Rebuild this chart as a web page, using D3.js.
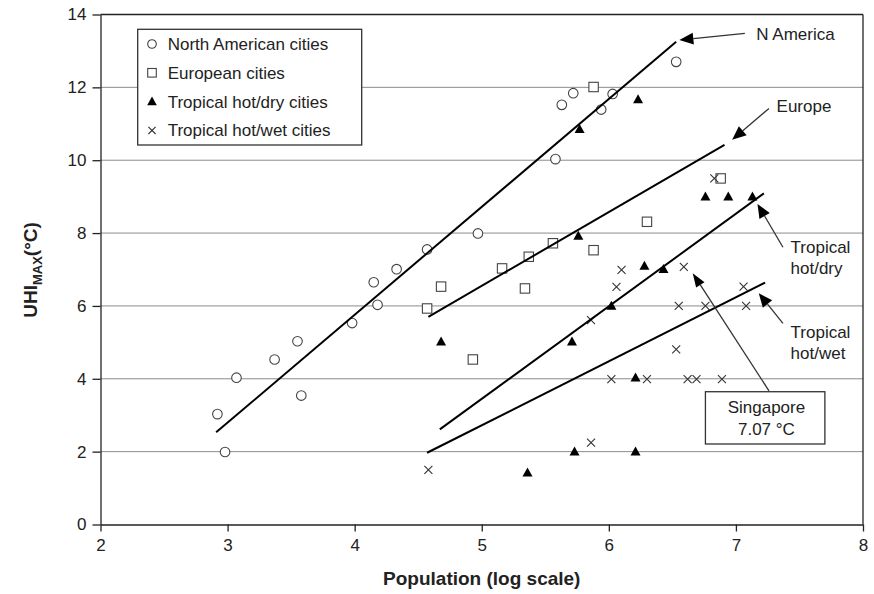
<!DOCTYPE html>
<html>
<head>
<meta charset="utf-8">
<script src="https://cdn.jsdelivr.net/npm/d3@7"></script>
<style>
  html, body { margin: 0; padding: 0; background: #fff; }
  svg { display: block; font-family: Arial, "Liberation Sans", Helvetica, sans-serif; }
</style>
</head>
<body>
<svg id="chart" width="874" height="594"></svg>
<script>
// ---------------- DATA ----------------
const xTicks = [2, 3, 4, 5, 6, 7, 8];
const yTicks = [0, 2, 4, 6, 8, 10, 12, 14];

const seriesNames = ["North American cities", "European cities", "Tropical hot/dry cities", "Tropical hot/wet cities"];

const northAmerica = [
  [2.92, 3.03], [2.98, 1.99], [3.07, 4.03], [3.37, 4.53], [3.55, 5.03], [3.58, 3.54],
  [3.98, 5.53], [4.15, 6.65], [4.18, 6.03], [4.33, 7.01], [4.57, 7.55], [4.97, 7.99],
  [5.58, 10.03], [5.63, 11.52], [5.72, 11.84], [5.94, 11.39], [6.03, 11.82], [6.53, 12.70]
];
const europe = [
  [4.57, 5.93], [4.68, 6.53], [4.93, 4.53], [5.16, 7.03], [5.34, 6.48], [5.37, 7.35],
  [5.56, 7.72], [5.88, 7.53], [5.88, 12.01], [6.30, 8.31], [6.88, 9.50]
];
const tropicalDry = [
  [4.68, 5.02], [5.36, 1.42], [5.71, 5.02], [5.73, 2.00], [5.76, 7.92], [5.77, 10.85],
  [6.02, 6.00], [6.21, 4.03], [6.21, 2.00], [6.23, 11.67], [6.28, 7.10], [6.43, 7.01],
  [6.76, 9.00], [6.94, 9.00], [7.13, 9.00]
];
const tropicalWet = [
  [4.58, 1.50], [5.86, 5.61], [5.86, 2.25], [6.02, 3.99], [6.06, 6.52], [6.10, 6.99],
  [6.30, 3.99], [6.53, 4.81], [6.55, 6.00], [6.59, 7.07], [6.62, 3.99], [6.69, 3.99],
  [6.76, 6.00], [6.83, 9.50], [6.89, 3.99], [7.06, 6.53], [7.08, 6.00]
];

// regression lines: [[x1,y1],[x2,y2]]
const fitNorthAmerica = [[2.91, 2.53], [6.53, 13.25]];
const fitEurope = [[4.58, 5.70], [6.91, 10.42]];
const fitDry = [[4.67, 2.61], [7.22, 9.09]];
const fitWet = [[4.57, 1.97], [7.23, 6.64]];

// annotation texts
const labelNA = ["N America"];
const labelEU = ["Europe"];
const labelDry = ["Tropical", "hot/dry"];
const labelWet = ["Tropical", "hot/wet"];
const labelSingapore = ["Singapore", "7.07 \u00B0C"];

// ---------------- LAYOUT ----------------
const svg = d3.select("#chart");
const x = d3.scaleLinear().domain([2, 8]).range([100.5, 863]);
const y = d3.scaleLinear().domain([0, 14]).range([524.5, 14.5]);
const FONT = 17;
const ink = "#222";

// gridlines
svg.append("g").selectAll("line").data(yTicks.filter(v => v > 0 && v < 14)).join("line")
  .attr("x1", x(2)).attr("x2", x(8))
  .attr("y1", d => y(d)).attr("y2", d => y(d))
  .attr("stroke", "#8c8c8c").attr("stroke-width", 1);

// frame (top & right)
svg.append("line").attr("x1", x(2)).attr("x2", x(8)).attr("y1", y(14)).attr("y2", y(14))
  .attr("stroke", ink).attr("stroke-width", 1.3);
svg.append("line").attr("x1", x(8)).attr("x2", x(8)).attr("y1", y(14)).attr("y2", y(0))
  .attr("stroke", ink).attr("stroke-width", 1.3);

// axes
const xAxis = svg.append("g").attr("transform", `translate(0,${y(0)})`)
  .call(d3.axisBottom(x).tickValues(xTicks).tickFormat(d3.format("d")).tickSize(7).tickSizeOuter(0).tickPadding(7));
const yAxis = svg.append("g").attr("transform", `translate(${x(2)},0)`)
  .call(d3.axisLeft(y).tickValues(yTicks).tickFormat(d3.format("d")).tickSize(8).tickSizeOuter(0).tickPadding(6));
[xAxis, yAxis].forEach(a => {
  a.select(".domain").attr("stroke", ink).attr("stroke-width", 1.3);
  a.selectAll(".tick line").attr("stroke", ink).attr("stroke-width", 1.3);
  a.selectAll(".tick text").attr("font-size", FONT).attr("fill", ink)
    .attr("font-family", "Arial, 'Liberation Sans', Helvetica, sans-serif");
});

// axis titles
svg.append("text").attr("x", (x(2) + x(8)) / 2).attr("y", 585)
  .attr("text-anchor", "middle").attr("font-size", 19).attr("font-weight", "bold").attr("fill", ink)
  .text("Population (log scale)");
const yt = svg.append("text").attr("transform", `translate(37,${270}) rotate(-90)`)
  .attr("text-anchor", "middle").attr("font-size", 19).attr("font-weight", "bold").attr("fill", ink);
yt.append("tspan").text("UHI");
yt.append("tspan").attr("font-size", 13).attr("dy", 5).text("MAX");
yt.append("tspan").attr("dy", -5).text("(\u00B0C)");

// ---------------- MARKS ----------------
const markers = {
  circle: g => g.append("circle").attr("r", 4.8).attr("fill", "#fff").attr("stroke", "#444").attr("stroke-width", 1.1),
  square: g => g.append("rect").attr("x", -4.7).attr("y", -4.7).attr("width", 9.4).attr("height", 9.4)
                .attr("fill", "#fff").attr("stroke", "#444").attr("stroke-width", 1.1),
  triangle: g => g.append("path").attr("d", "M0,-5.2L5,3.8L-5,3.8Z").attr("fill", "#000"),
  cross: g => g.append("path").attr("d", "M-4,-4L4,4M-4,4L4,-4").attr("stroke", "#333").attr("stroke-width", 1.1).attr("fill", "none")
};

function drawSeries(data, kind) {
  svg.append("g").selectAll("g").data(data).join("g")
    .attr("transform", d => `translate(${x(d[0])},${y(d[1])})`)
    .each(function () { markers[kind](d3.select(this)); });
}
drawSeries(northAmerica, "circle");
drawSeries(europe, "square");
drawSeries(tropicalDry, "triangle");
drawSeries(tropicalWet, "cross");

// fit lines
[fitNorthAmerica, fitEurope, fitDry, fitWet].forEach(f => {
  svg.append("line")
    .attr("x1", x(f[0][0])).attr("y1", y(f[0][1]))
    .attr("x2", x(f[1][0])).attr("y2", y(f[1][1]))
    .attr("stroke", "#000").attr("stroke-width", 2);
});

// ---------------- ANNOTATIONS ----------------
function arrow(from, tip, len = 14, hw = 6) {
  const x1 = x(from[0]), y1 = y(from[1]), x2 = x(tip[0]), y2 = y(tip[1]);
  const a = Math.atan2(y2 - y1, x2 - x1);
  const bx = x2 - len * Math.cos(a), by = y2 - len * Math.sin(a);
  svg.append("line").attr("x1", x1).attr("y1", y1).attr("x2", bx).attr("y2", by)
    .attr("stroke", "#333").attr("stroke-width", 1.3);
  const p1 = [bx + hw * Math.sin(a), by - hw * Math.cos(a)];
  const p2 = [bx - hw * Math.sin(a), by + hw * Math.cos(a)];
  svg.append("path").attr("d", `M${x2},${y2}L${p1[0]},${p1[1]}L${p2[0]},${p2[1]}Z`).attr("fill", "#000");
}
function label(lines, at, gap, anchor = "start") {
  lines.forEach((t, i) => {
    svg.append("text").attr("x", x(at[0])).attr("y", y(at[1]) + i * gap)
      .attr("dy", "0.35em").attr("text-anchor", anchor)
      .attr("font-size", FONT).attr("fill", ink).text(t);
  });
}

arrow([7.07, 13.48], [6.555, 13.30]);
label(labelNA, [7.16, 13.46], 21);
arrow([7.26, 11.42], [6.97, 10.56]);
label(labelEU, [7.32, 11.49], 21);
arrow([7.37, 7.61], [7.17, 8.80]);
label(labelDry, [7.43, 7.61], 21);
arrow([7.37, 5.52], [7.18, 6.35]);
label(labelWet, [7.43, 5.29], 21);
arrow([7.26, 3.67], [6.66, 6.90], 14, 5);

// Singapore box
svg.append("rect").attr("x", x(6.76)).attr("y", y(3.645))
  .attr("width", x(7.70) - x(6.76)).attr("height", y(2.21) - y(3.645))
  .attr("fill", "#fff").attr("stroke", "#333").attr("stroke-width", 1.3);
label(labelSingapore, [7.24, 3.23], 22.6, "middle");

// ---------------- LEGEND ----------------
const leg = svg.append("g");
leg.append("rect").attr("x", 137.7).attr("y", 29.3).attr("width", 224).attr("height", 115.7)
  .attr("fill", "#fff").attr("stroke", "#333").attr("stroke-width", 1.3);
const kinds = ["circle", "square", "triangle", "cross"];
seriesNames.forEach((name, i) => {
  const row = leg.append("g").attr("transform", `translate(0,${44 + i * 28.8})`);
  const sym = row.append("g").attr("transform", "translate(152,0)");
  if (kinds[i] === "circle") sym.append("circle").attr("r", 4.3).attr("fill", "#fff").attr("stroke", "#444").attr("stroke-width", 1.1);
  if (kinds[i] === "square") sym.append("rect").attr("x", -4.3).attr("y", -4.3).attr("width", 8.6).attr("height", 8.6).attr("fill", "#fff").attr("stroke", "#444").attr("stroke-width", 1.1);
  if (kinds[i] === "triangle") sym.append("path").attr("d", "M0,-5L4.8,3.6L-4.8,3.6Z").attr("fill", "#000");
  if (kinds[i] === "cross") sym.append("path").attr("d", "M-3.6,-3.6L3.6,3.6M-3.6,3.6L3.6,-3.6").attr("stroke", "#333").attr("stroke-width", 1.1);
  row.append("text").attr("x", 167.7).attr("dy", "0.35em").attr("font-size", FONT).attr("fill", ink).text(name);
});
</script>
</body>
</html>
